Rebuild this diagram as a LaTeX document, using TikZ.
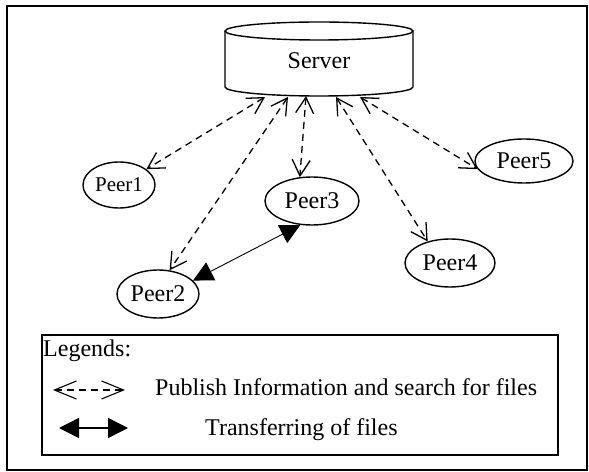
\documentclass[tikz,border=0pt]{standalone}
\usepackage{fontspec}
\setmainfont{Liberation Serif}
\usetikzlibrary{arrows.meta,shapes.geometric}

\tikzset{
  txt/.style={font=\fontsize{24bp}{28bp}\selectfont, inner sep=0pt},
  peer/.style={ellipse, draw, line width=1.4bp, inner sep=0pt,
               font=\fontsize{24bp}{28bp}\selectfont},
  pub/.style={line width=1.3bp, dash pattern=on 7bp off 5bp,
              {Straight Barb[length=16bp,width=18bp]}-{Straight Barb[length=16bp,width=18bp]}},
  xfer/.style={line width=0.9bp,
               {Triangle[length=20bp,width=20bp]}-{Triangle[length=20bp,width=20bp]}},
}

\begin{document}
\begin{tikzpicture}[x=1bp,y=-1bp]
  \useasboundingbox (0,0) rectangle (589,472);

  % outer frame
  \draw[line width=1.6bp] (7,6) rectangle (587,470);

  % server drawn as a cylinder
  \draw[line width=1.4bp] (225,31) -- (225,87)
        arc[start angle=180, end angle=0, x radius=94, y radius=9] -- (413,31);
  \draw[line width=1.4bp] (319,31) ellipse[x radius=94, y radius=9];
  \node[txt] (server) at (319,61) {Server};

  % peers
  \node[peer, minimum width=72bp, minimum height=46bp,
        font=\fontsize{21bp}{25bp}\selectfont] (p1) at (119,185) {Peer1};
  \node[peer, minimum width=82bp, minimum height=48bp] (p2) at (158,294) {Peer2};
  \node[peer, minimum width=94bp, minimum height=48bp] (p3) at (312,201) {Peer3};
  \node[peer, minimum width=90bp, minimum height=48bp] (p4) at (450,263) {Peer4};
  \node[peer, minimum width=98bp, minimum height=44bp] (p5) at (524,161) {Peer5};

  % attachment points under the server
  \coordinate (s1) at (265,97);
  \coordinate (s2) at (288,97);
  \coordinate (s3) at (306,96);
  \coordinate (s4) at (336,97);
  \coordinate (s5) at (360,97);

  % publish / search links
  \draw[pub] (s1) -- (p1.30);
  \draw[pub] (s2) -- (p2.64);
  \draw[pub] (s3) -- (p3.117);
  \draw[pub] (s4) -- (p4.136);
  \draw[pub] (s5) -- (p5.190);

  % file transfer
  \draw[xfer] (p2.21) -- (p3.244);

  % legend
  \draw[line width=1.4bp] (42,335) rectangle (558,455);
  \node[txt, anchor=base west] (leg) at (43,356) {Legends:};
  \coordinate (la) at (53,390);
  \coordinate (lb) at (125,390);
  \draw[line width=1.1bp, dash pattern=on 7bp off 5bp,
        {Straight Barb[length=22bp,width=18bp]}-{Straight Barb[length=22bp,width=18bp]}] (la) -- (lb);
  \node[txt, anchor=base west] (lt1) at (155,395) {Publish Information and search for files};
  \coordinate (lc) at (59,428);
  \coordinate (ld) at (128,428);
  \draw[line width=1.4bp,
        {Triangle[length=20bp,width=20bp]}-{Triangle[length=20bp,width=20bp]}] (lc) -- (ld);
  \node[txt, anchor=base west] (lt2) at (205,435) {Transferring of files};
\end{tikzpicture}
\end{document}
